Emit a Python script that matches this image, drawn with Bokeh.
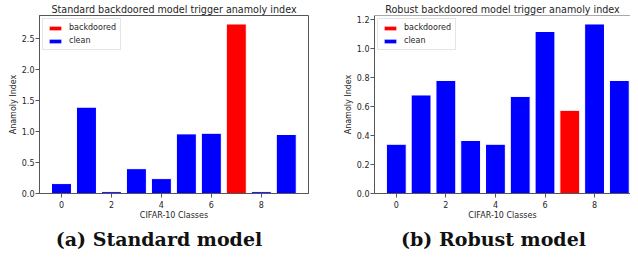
from bokeh.plotting import figure
from bokeh.models import (ColumnDataSource, Legend, LegendItem, Span, Range1d,
                          FixedTicker, PrintfTickFormatter)
from bokeh.layouts import column, row
from bokeh.embed import file_html
from bokeh.resources import INLINE
from bokeh.core.properties import value

# ---------------- data ----------------
classes = [0, 1, 2, 3, 4, 5, 6, 7, 8, 9]
standard_values = [0.16, 1.39, 0.03, 0.40, 0.24, 0.96, 0.97, 2.73, 0.03, 0.95]
robust_values = [0.34, 0.68, 0.78, 0.366, 0.34, 0.67, 1.118, 0.574, 1.17, 0.78]
backdoored_class = 7
titles = ["Standard backdoored model trigger anamoly index",
          "Robust backdoored model trigger anamoly index"]
captions = ["(a) Standard model", "(b) Robust model"]
x_label = "CIFAR-10 Classes"
y_label = "Anamoly Index"
legend_labels = ["backdoored", "clean"]
x_ticks = [0, 2, 4, 6, 8]
standard_y_ticks = [0.0, 0.5, 1.0, 1.5, 2.0, 2.5]
robust_y_ticks = [0.0, 0.2, 0.4, 0.6, 0.8, 1.0, 1.2]

RED = "#ff0000"
BLUE = "#0000ff"
SPINE = "#555555"
TXT = "#262626"
FONT = "DejaVu Sans"


def make_panel(vals, title, yticks, width, height, border_left, border_right,
               x_end, full_outline):
    ymax = max(vals) * 1.05
    p = figure(width=width, height=height, output_backend="svg",
               toolbar_location=None, x_range=Range1d(-0.88, x_end),
               y_range=Range1d(0, ymax), title=title,
               min_border_left=border_left, min_border_right=border_right,
               min_border_top=0, min_border_bottom=29)
    p.title.text_font = FONT
    p.title.text_font_size = "9.6px"
    p.title.text_font_style = "normal"
    p.title.text_color = TXT
    p.title.align = "center"
    p.title.offset = 0
    p.title.standoff = 2
    p.grid.visible = False
    p.background_fill_color = "white"
    p.border_fill_color = "white"
    if full_outline:
        p.outline_line_color = SPINE
        p.outline_line_width = 1
    else:
        p.outline_line_color = None
        p.add_layout(Span(location=ymax, dimension="width",
                          line_color=SPINE, line_width=1))

    bd_x = [c for c in classes if c == backdoored_class]
    bd_y = [v for c, v in zip(classes, vals) if c == backdoored_class]
    cl_x = [c for c in classes if c != backdoored_class]
    cl_y = [v for c, v in zip(classes, vals) if c != backdoored_class]
    r_bd = p.vbar(x="x", top="top", width=0.8,
                  source=ColumnDataSource(dict(x=bd_x, top=bd_y)),
                  fill_color=RED, line_color="white", line_width=1)
    r_cl = p.vbar(x="x", top="top", width=0.8,
                  source=ColumnDataSource(dict(x=cl_x, top=cl_y)),
                  fill_color=BLUE, line_color="white", line_width=1)

    for ax in (p.xaxis[0], p.yaxis[0]):
        ax.axis_line_color = SPINE
        ax.major_tick_line_color = SPINE
        ax.major_tick_out = 4
        ax.major_tick_in = 0
        ax.minor_tick_line_color = None
        ax.major_label_text_font = FONT
        ax.major_label_text_font_size = "8px"
        ax.major_label_text_color = TXT
        ax.axis_label_text_font = FONT
        ax.axis_label_text_font_size = "8px"
        ax.axis_label_text_font_style = "normal"
        ax.axis_label_text_color = TXT
        ax.major_label_standoff = 1
        ax.axis_label_standoff = 1
    p.xaxis.major_label_standoff = 3
    p.xaxis.axis_label_standoff = 0
    p.xaxis.ticker = FixedTicker(ticks=x_ticks)
    p.yaxis.ticker = FixedTicker(ticks=yticks)
    p.yaxis.formatter = PrintfTickFormatter(format="%.1f")
    p.xaxis.axis_label = x_label
    p.yaxis.axis_label = y_label

    legend = Legend(items=[LegendItem(label=legend_labels[0], renderers=[r_bd]),
                           LegendItem(label=legend_labels[1], renderers=[r_cl])],
                    location="top_left")
    legend.label_text_font = FONT
    legend.label_text_font_size = "8px"
    legend.label_text_color = TXT
    legend.glyph_width = 16
    legend.glyph_height = 6
    legend.label_height = 8
    legend.spacing = 4
    legend.padding = 4
    legend.margin = 3
    legend.label_standoff = 6
    legend.border_line_color = "#cccccc"
    legend.background_fill_alpha = 0.8
    p.add_layout(legend)
    return p


ROW_H = 222
p1 = make_panel(standard_values, titles[0], standard_y_ticks, 318, ROW_H, 39, 10,
                9.89, True)
p2 = make_panel(robust_values, titles[1], robust_y_ticks, 312, ROW_H, 56, 0,
                9.45, False)

CAP_W, CAP_H = 630, 28
cap = figure(width=CAP_W, height=CAP_H, output_backend="svg",
             toolbar_location=None, x_range=Range1d(0, CAP_W),
             y_range=Range1d(0, CAP_H), min_border=0,
             x_axis_location=None, y_axis_location=None)
cap.grid.visible = False
cap.outline_line_color = None
cap_x = [158.5, 493]
cap_y = [12, 12]
cap.text(x=cap_x, y=cap_y, text=captions, text_font=value("DejaVu Serif"),
         text_font_style="bold", text_font_size="19px", text_align="center",
         text_baseline="middle", text_color="#111111")

layout = column(row(p1, p2), cap)
open("out.html", "w").write(file_html(layout, INLINE))
